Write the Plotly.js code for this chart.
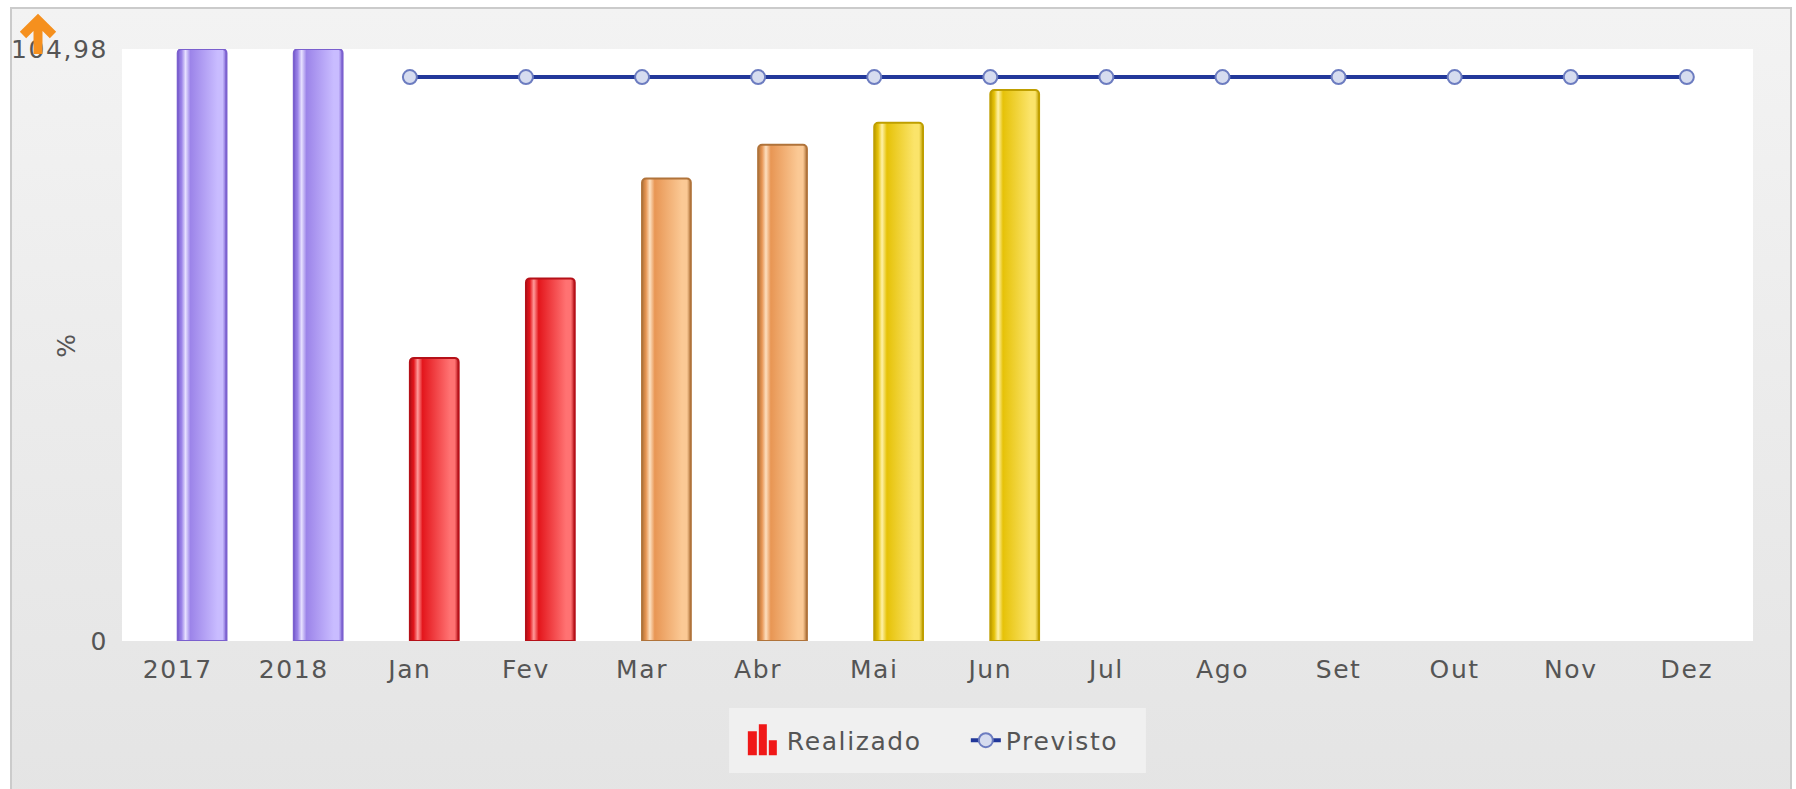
<!DOCTYPE html>
<html>
<head>
<meta charset="utf-8">
<script src="https://cdn.plot.ly/plotly-3.0.1.min.js"></script>
<style>
  html, body { margin: 0; padding: 0; background: #ffffff; }
  #frame { position: absolute; left: 10px; top: 7px; width: 1782px; height: 800px;
           border: 2px solid #cbcbcb; box-sizing: border-box;
           background: linear-gradient(to bottom, #f3f3f3 0%, #ececec 45%, #e4e4e4 100%); }
  #chart { position: absolute; left: 0; top: 0; width: 1796px; height: 789px; }
  #chart text { letter-spacing: 1.6px; }
</style>
</head>
<body>
<div id="frame"></div>
<div id="chart"></div>
<script>
// ---- data ----
const categories = ["2017", "2018", "Jan", "Fev", "Mar", "Abr", "Mai", "Jun", "Jul", "Ago", "Set", "Out", "Nov", "Dez"];
const realizado  = [104.98, 104.98, 50.2, 64.3, 82.0, 88.0, 91.9, 97.7, null, null, null, null, null, null];
const previsto   = [null, null, 100, 100, 100, 100, 100, 100, 100, 100, 100, 100, 100, 100];
const barGroups  = ["p", "p", "r", "r", "o", "o", "y", "y", "y", "y", "y", "y", "y", "y"];
const yMax = 104.98;
const yTickVals = [0, 104.98];
const yTickText = ["0", "104,98"];

// colour styles per bar group
const palette = {
  p: { edge: "#7b60cf", hi: "#e6e0ff", dark: "#9c84e9", light: "#c9bcff", flat: "#ad9cf0" },
  r: { edge: "#b51018", hi: "#ff9a9a", dark: "#e4161c", light: "#ff7272", flat: "#ee3a3e" },
  o: { edge: "#b0733a", hi: "#fde0c0", dark: "#e89654", light: "#fbc995", flat: "#f0b275" },
  y: { edge: "#bf9f00", hi: "#fff2a8", dark: "#e6c208", light: "#fbe46a", flat: "#f0d22c" }
};
const barColors = barGroups.map(g => palette[g].flat);
const barEdges  = barGroups.map(g => palette[g].edge);

const font = { family: "DejaVu Sans, Verdana, sans-serif", size: 25, color: "#555555" };

const traces = [
  {
    type: "bar", name: "Realizado", x: categories, y: realizado, width: 0.42, offset: 0.0,
    marker: { color: barColors, line: { color: barEdges, width: 2 }, cornerradius: 4 },
    hoverinfo: "x+y"
  },
  {
    type: "scatter", mode: "lines+markers", name: "Previsto", x: categories, y: previsto,
    line: { color: "#22389a", width: 4 },
    marker: { symbol: "circle", size: 14, color: "#d6dcef", line: { color: "#6c7cc0", width: 2 } },
    connectgaps: false
  }
];

const layout = {
  width: 1796, height: 789,
  margin: { l: 122, r: 43, t: 49, b: 148 },
  paper_bgcolor: "rgba(0,0,0,0)",
  plot_bgcolor: "#ffffff",
  font: font,
  showlegend: true,
  xaxis: {
    type: "category", range: [-0.48, 13.57],
    showgrid: false, zeroline: false, showline: false,
    ticks: "outside", ticklen: 6, tickcolor: "rgba(0,0,0,0)",
    tickfont: font, fixedrange: true
  },
  yaxis: {
    range: [0, yMax], tickvals: yTickVals, ticktext: yTickText,
    showgrid: false, zeroline: false, showline: false,
    ticks: "outside", ticklen: 8, tickcolor: "rgba(0,0,0,0)",
    tickfont: font, fixedrange: true
  },
  legend: {
    orientation: "h", x: 0.3831, xanchor: "left", y: -0.168, yanchor: "middle",
    bgcolor: "rgba(0,0,0,0)", font: font, entrywidth: 174, entrywidthmode: "pixels"
  },
  shapes: [
    { type: "rect", xref: "paper", yref: "paper", x0: 0.3722, x1: 0.6278, y0: -0.223, y1: -0.1132,
      fillcolor: "#f0f0f0", line: { width: 0 }, layer: "below" },
    { type: "path", xref: "paper", yref: "paper", xsizemode: "pixel", ysizemode: "pixel",
      xanchor: 0, yanchor: 1, path: "M-84,-5 L-84,28 M-99,14 L-84,29 L-69,14",
      line: { color: "#f5901e", width: 9 }, layer: "above" }
  ],
  annotations: [
    { text: "%", xref: "paper", yref: "paper", x: -0.0343, y: 0.5, xanchor: "center", yanchor: "middle",
      textangle: -90, showarrow: false, font: font }
  ]
};

Plotly.newPlot("chart", traces, layout, { displayModeBar: false, staticPlot: true }).then(gd => {
  const NS = "http://www.w3.org/2000/svg";
  const svg = gd.querySelector(".main-svg");
  let defs = svg.querySelector("defs");
  if (!defs) { defs = document.createElementNS(NS, "defs"); svg.insertBefore(defs, svg.firstChild); }
  Object.keys(palette).forEach(k => {
    const c = palette[k];
    const g = document.createElementNS(NS, "linearGradient");
    g.setAttribute("id", "bargrad-" + k);
    g.setAttribute("x1", "0"); g.setAttribute("x2", "1"); g.setAttribute("y1", "0"); g.setAttribute("y2", "0");
    [[0, c.edge], [0.08, c.dark], [0.16, c.hi], [0.26, c.dark], [0.82, c.light], [0.92, c.light], [1, c.edge]]
      .forEach(([o, col]) => {
        const s = document.createElementNS(NS, "stop");
        s.setAttribute("offset", o); s.setAttribute("stop-color", col);
        g.appendChild(s);
      });
    defs.appendChild(g);
  });
  const barPaths = gd.querySelectorAll(".barlayer .trace .point path");
  barPaths.forEach((p, i) => {
    const pt = p.parentNode.__data__;
    const idx = pt && pt.i !== undefined ? pt.i : i;
    p.style.fill = "url(#bargrad-" + barGroups[idx] + ")";
  });
  // legend icon for the bar series: small red bar chart glyph
  const legendItems = gd.querySelectorAll(".legend .traces");
  if (legendItems.length) {
    const lb = legendItems[0].querySelector(".legendpoints path");
    if (lb) {
      lb.setAttribute("d", "M-19,15V-9H-10V15Z M-8,15V-16H0V15Z M2,15V0H10V15Z");
      lb.style.fill = "#f01818"; lb.style.stroke = "none"; lb.style.strokeWidth = "0";
    }
  }
});
</script>
</body>
</html>
